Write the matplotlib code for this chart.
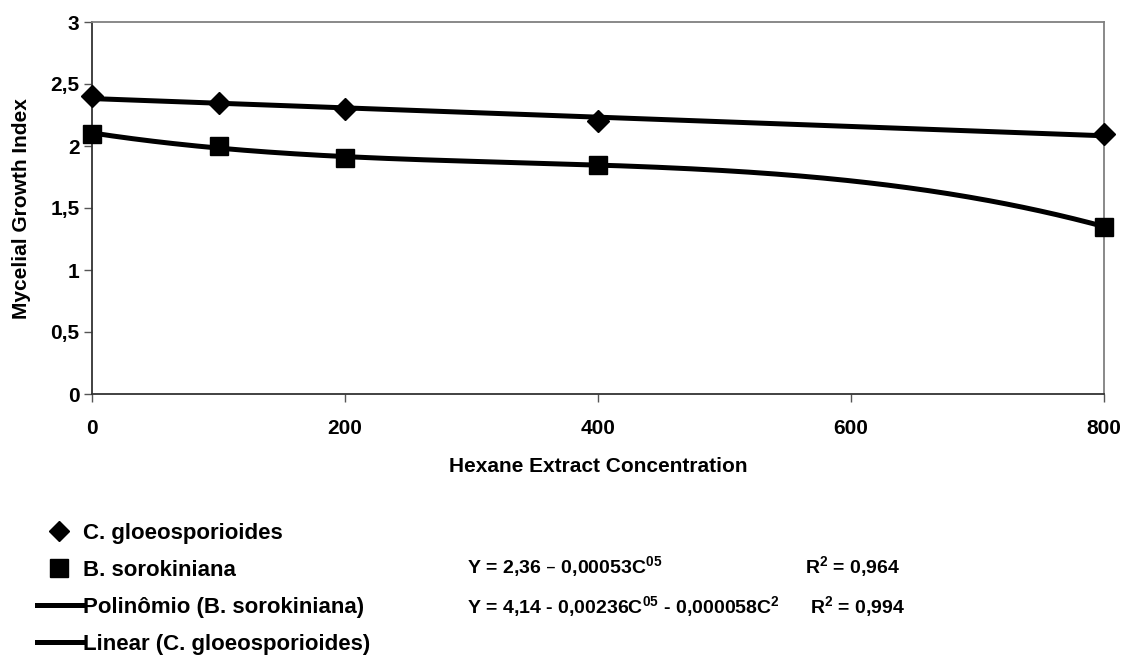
import numpy as np
import matplotlib
matplotlib.use("Agg")
import matplotlib.pyplot as plt
from matplotlib.lines import Line2D
from matplotlib import font_manager

conc = [0, 100, 200, 400, 800]
c_gloeo = [2.4, 2.35, 2.3, 2.2, 2.1]
b_soro = [2.1, 2.0, 1.9, 1.85, 1.35]
x_ticks = [0, 200, 400, 600, 800]
y_ticks = [0, 0.5, 1, 1.5, 2, 2.5, 3]
y_ticklabels = ["0", "0,5", "1", "1,5", "2", "2,5", "3"]
legend_labels = ["C. gloeosporioides", "B. sorokiniana",
                 "Polinômio (B. sorokiniana)", "Linear (C. gloeosporioides)"]
eq1 = r"Y = 2,36 – 0,00053C$\mathregular{^{05}}$"
eq2 = r"Y = 4,14 - 0,00236C$\mathregular{^{05}}$ - 0,000058C$\mathregular{^{2}}$"
r2_1 = r"R$\mathregular{^{2}}$ = 0,964"
r2_2 = r"R$\mathregular{^{2}}$ = 0,994"

names = {f.name for f in font_manager.fontManager.ttflist}
main_font = "Liberation Sans" if "Liberation Sans" in names else "DejaVu Sans"
narrow_font = "Liberation Sans Narrow" if "Liberation Sans Narrow" in names else main_font
plt.rcParams["font.family"] = [main_font, "DejaVu Sans"]
plt.rcParams["mathtext.default"] = "regular"

W, H = 1128, 672
fig = plt.figure(figsize=(W / 100, H / 100), dpi=100)
ax = fig.add_axes([92 / W, 1 - 394 / H, (1104 - 92) / W, (394 - 22) / H])

xs = np.linspace(0, 800, 300)
lin = np.polyfit(conc, c_gloeo, 1)
poly = np.polyfit(conc, b_soro, 3)
ax.plot(xs, np.polyval(poly, xs), color="black", lw=3.6, solid_capstyle="butt", zorder=2)
ax.plot(xs, np.polyval(lin, xs), color="black", lw=3.6, solid_capstyle="butt", zorder=2)
ax.plot(conc, c_gloeo, ls="none", marker="D", ms=11.5, color="black", clip_on=False, zorder=3)
ax.plot(conc, b_soro, ls="none", marker="s", ms=12.5, color="black", clip_on=False, zorder=3)

ax.set_xlim(0, 800)
ax.set_ylim(0, 3)
ax.set_xticks(x_ticks)
ax.set_xticklabels([str(v) for v in x_ticks], fontsize=15, fontweight="bold")
ax.set_yticks(y_ticks)
ax.set_yticklabels(y_ticklabels, fontsize=15, fontweight="bold")
ax.tick_params(axis="both", direction="out", length=6, width=1, color="#555555")
ax.tick_params(axis="x", pad=12)
ax.tick_params(axis="y", pad=3)
for s in ["left", "bottom"]:
    ax.spines[s].set_color("#333333")
    ax.spines[s].set_linewidth(1.3)
for s in ["top", "right"]:
    ax.spines[s].set_color("#808080")
    ax.spines[s].set_linewidth(1.3)

fig.text(598 / W, 1 - 467 / H, "Hexane Extract Concentration", ha="center", va="center",
         fontsize=15, fontweight="bold")
fig.text(22 / W, 1 - 209 / H, "Mycelial Growth Index", ha="center", va="center",
         rotation=90, fontsize=15, fontweight="bold")

handles = [
    Line2D([], [], ls="none", marker="D", ms=10, color="black"),
    Line2D([], [], ls="none", marker="s", ms=12.5, color="black"),
    Line2D([], [], color="black", lw=3.6),
    Line2D([], [], color="black", lw=3.6),
]
leg = fig.legend(handles, legend_labels, loc="upper left", bbox_to_anchor=(26 / W, 1 - 512 / H),
                 frameon=False, prop={"family": main_font, "weight": "bold", "size": 16},
                 handlelength=2.0, handletextpad=0.05, labelspacing=0.72, borderpad=0)

for txt, x, y in [(eq1, 467, 567), (r2_1, 805, 567), (eq2, 467, 607), (r2_2, 810, 607)]:
    fig.text(x / W, 1 - y / H, txt, ha="left", va="center", fontsize=14,
             family=[narrow_font, "DejaVu Sans"], fontweight="bold")

fig.savefig("out.png", dpi=100)
